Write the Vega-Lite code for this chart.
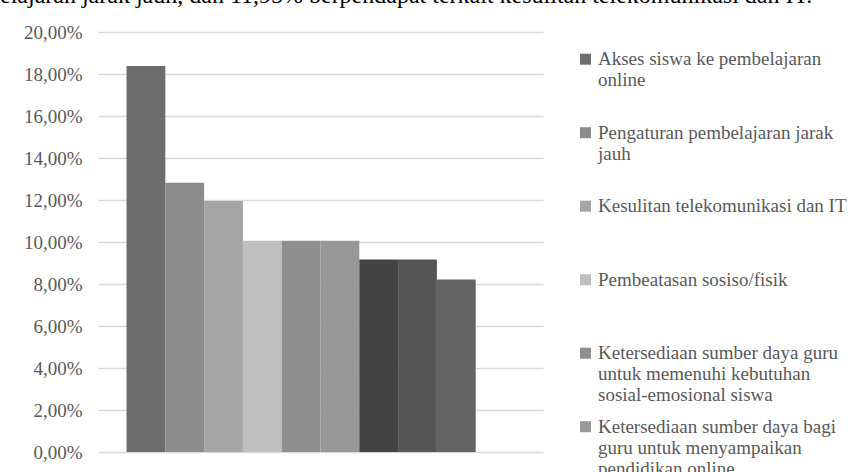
{
  "$schema": "https://vega.github.io/schema/vega-lite/v6.json",
  "autosize": {"type": "none"},
  "width": 445,
  "height": 420,
  "padding": {"left": 98, "top": 32, "right": 311, "bottom": 20},
  "background": "white",
  "title": {
    "text": "elajaran jarak jauh, dan 11,95% berpendapat terkait kesulitan telekomunikasi dan IT.",
    "anchor": "start",
    "frame": "group",
    "orient": "top",
    "dx": -98,
    "dy": 15,
    "offset": 11,
    "baseline": "alphabetic",
    "font": "Liberation Serif",
    "fontSize": 24,
    "fontWeight": "normal",
    "color": "#000000"
  },
  "data": {
    "values": [
      {"kategori": "Akses siswa ke pembelajaran online", "persen": 0.1838},
      {"kategori": "Pengaturan pembelajaran jarak jauh", "persen": 0.1282},
      {"kategori": "Kesulitan telekomunikasi dan IT", "persen": 0.1195},
      {"kategori": "Pembeatasan sosiso/fisik", "persen": 0.1006},
      {"kategori": "Ketersediaan sumber daya guru untuk memenuhi kebutuhan sosial-emosional siswa", "persen": 0.1006},
      {"kategori": "Ketersediaan sumber daya bagi guru untuk menyampaikan pendidikan online", "persen": 0.1006},
      {"kategori": "Kesejahteraan siswa", "persen": 0.0917},
      {"kategori": "Kesejahteraan guru", "persen": 0.0917},
      {"kategori": "Keterlibatan orang tua", "persen": 0.0822},
      {"kategori": "Lainnya", "persen": 0}
    ]
  },
  "mark": {"type": "bar"},
  "encoding": {
    "x": {
      "field": "kategori",
      "type": "nominal",
      "sort": null,
      "scale": {"paddingInner": 0, "paddingOuter": 0.735},
      "axis": null
    },
    "y": {
      "field": "persen",
      "type": "quantitative",
      "scale": {"domain": [0, 0.2], "nice": false},
      "axis": {
        "title": null,
        "values": [0, 0.02, 0.04, 0.06, 0.08, 0.1, 0.12, 0.14, 0.16, 0.18, 0.2],
        "labelExpr": "replace(format(datum.value, '.2%'), '.', ',')",
        "domain": false,
        "ticks": false,
        "labelPadding": 16,
        "labelFont": "Liberation Serif",
        "labelFontSize": 19,
        "labelColor": "#595959",
        "gridColor": "#d9d9d9",
        "gridWidth": 1.5
      }
    },
    "color": {
      "field": "kategori",
      "type": "nominal",
      "sort": null,
      "scale": {
        "range": ["#6d6d6d", "#8c8c8c", "#a5a5a5", "#bfbfbf", "#8f8f8f", "#989898", "#434343", "#555555", "#636363", "#7f7f7f"]
      },
      "legend": {
        "title": null,
        "orient": "none",
        "legendX": 478,
        "legendY": 17.7,
        "padding": 0,
        "gridAlign": "all",
        "symbolType": "square",
        "symbolSize": 121,
        "symbolStrokeWidth": 0,
        "labelFont": "Liberation Serif",
        "labelFontSize": 19,
        "labelColor": "#595959",
        "labelLimit": 400,
        "labelOffset": 3,
        "labelBaseline": "middle",
        "labelLineHeight": 21,
        "rowPadding": 11.5,
        "labelExpr": "datum.label == 'Akses siswa ke pembelajaran online' ? ['Akses siswa ke pembelajaran', 'online', ''] : datum.label == 'Pengaturan pembelajaran jarak jauh' ? ['Pengaturan pembelajaran jarak', 'jauh', ''] : datum.label == 'Ketersediaan sumber daya guru untuk memenuhi kebutuhan sosial-emosional siswa' ? ['Ketersediaan sumber daya guru', 'untuk memenuhi kebutuhan', 'sosial-emosional siswa'] : datum.label == 'Ketersediaan sumber daya bagi guru untuk menyampaikan pendidikan online' ? ['Ketersediaan sumber daya bagi', 'guru untuk menyampaikan', 'pendidikan online'] : [datum.label, '', '']"
      }
    }
  },
  "config": {
    "view": {"stroke": null}
  }
}
